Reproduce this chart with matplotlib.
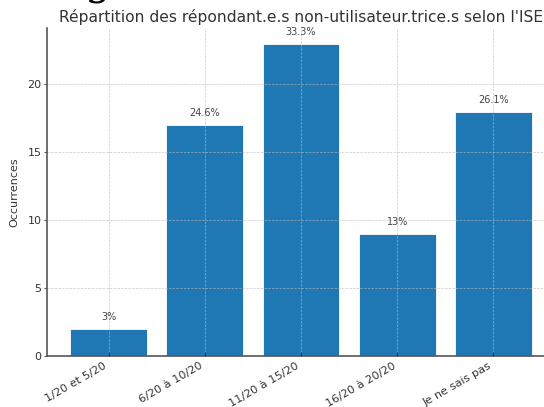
import matplotlib.pyplot as plt

# data
categories = ["1/20 et 5/20", "6/20 à 10/20", "11/20 à 15/20", "16/20 à 20/20", "Je ne sais pas"]
occurrences = [2, 17, 23, 9, 18]
pct_labels = ["3%", "24.6%", "33.3%", "13%", "26.1%"]

title = "Répartition des répondant.e.s non-utilisateur.trice.s selon l'ISE"

fig = plt.figure(figsize=(5.44, 4.07), dpi=100)
# the original is cropped on the right, so the axes run past the canvas
ax = fig.add_axes([47 / 544, 51 / 407, 508 / 544, 328 / 407])

bars = ax.bar(categories, occurrences, color="#1f77b4", edgecolor="white", linewidth=0.6)
for b, lab in zip(bars, pct_labels):
    ax.annotate(lab, (b.get_x() + b.get_width() / 2, b.get_height()),
                xytext=(0, 5), textcoords="offset points",
                ha="center", va="bottom", fontsize=7, color="#444444")

ax.set_axisbelow(False)
ax.grid(True, linestyle="--", linewidth=0.5, color="#bbbbbb", alpha=0.8)
ax.set_ylabel("Occurrences", fontsize=8, color="#333333", labelpad=6)
ax.set_title(title, fontsize=11.2, color="#333333", pad=4)
ax.tick_params(axis="x", direction="in", length=3, color="#333333", labelsize=8.1, labelcolor="#333333", pad=3.5)
ax.tick_params(axis="y", length=2, color="#555555", labelsize=8, labelcolor="#333333", pad=2)
plt.setp(ax.get_xticklabels(), rotation=30, ha="right")
ax.set_yticks([0, 5, 10, 15, 20])
for s in ["top", "right"]:
    ax.spines[s].set_visible(False)
for s in ["left", "bottom"]:
    ax.spines[s].set_color("#555555")
    ax.spines[s].set_linewidth(1.2)

# stray descender of a larger heading cut off above the figure
fig.text(85 / 544, 1 + 6 / 407, "g", fontsize=30, family="serif", va="baseline", color="black")

fig.savefig("out.png", dpi=100)
